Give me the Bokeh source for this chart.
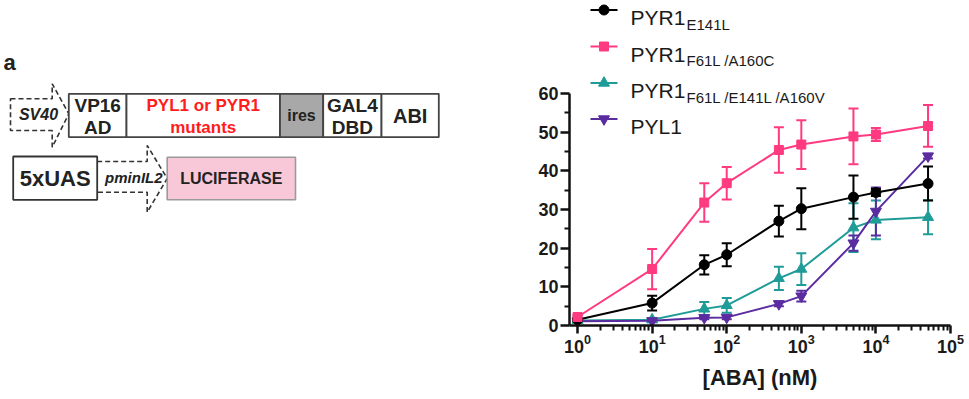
import numpy as np
from bokeh.plotting import figure
from bokeh.models import (Range1d, ColumnDataSource, Whisker, TeeHead, Label,
                          FixedTicker, LogTickFormatter)
from bokeh.layouts import row
from bokeh.embed import file_html
from bokeh.resources import INLINE
from bokeh.core.properties import value

# ---------------- data (panel b) ----------------
ABA_NM = [1, 10, 50, 100, 500, 1000, 5000, 10000, 50000]
E141L_MEAN = [1.5, 5.8, 15.7, 18.3, 27.0, 30.2, 33.2, 34.4, 36.7]
E141L_ERR = [0.5, 1.9, 2.5, 3.0, 4.0, 5.3, 5.6, 0.9, 4.4]
A160C_MEAN = [2.2, 14.6, 31.8, 36.8, 45.4, 46.8, 48.9, 49.4, 51.6]
A160C_ERR = [0.5, 5.2, 5.0, 4.2, 5.9, 6.3, 7.2, 1.7, 5.4]
A160V_MEAN = [1.3, 1.5, 4.3, 5.2, 12.2, 14.6, 25.3, 27.3, 28.0]
A160V_ERR = [0.3, 0.4, 1.8, 1.9, 3.0, 4.1, 6.3, 5.0, 4.4]
PYL1_MEAN = [1.1, 1.2, 2.0, 2.1, 5.6, 7.6, 21.3, 29.5, 43.8]
PYL1_ERR = [0.2, 0.2, 0.4, 0.5, 0.6, 1.4, 2.0, 6.2, 0.6]

SERIES_MAIN = ["PYR1", "PYR1", "PYR1", " PYL1"]
SERIES_SUB = ["E141L", "F61L /A160C", "F61L /E141L /A160V", ""]
SERIES_COLORS = ["#000000", "#ff3a80", "#1f9c98", "#5a2ca0"]
SERIES_MARKERS = ["circle", "square", "triangle", "inverted_triangle"]
SERIES_SIZES = [10, 9, 11, 11]

Y_TICKS = [0, 10, 20, 30, 40, 50, 60]
X_TICKS = [1, 10, 100, 1000, 10000, 100000]

# ---------------- diagram (panel a) ----------------
TOP_BOX_X = [68.3, 126, 279.5, 322.7, 381, 438.3]
TOP_BOX_Y = (93.3, 136.7)
FONT = "Liberation Sans"

# ---------------- layout constants (page pixels) ----------------
W_TOTAL, H = 969, 399
W_A = 460
W_B = W_TOTAL - W_A
FRAME_L, FRAME_R = 569, 950
FRAME_T, FRAME_B = 0, 325
X_LO, X_HI = np.log10(0.78), 5.0
PX_PER_UNIT = (325 - 93) / 60.0
Y_LO, Y_HI = 0.0, (FRAME_B - FRAME_T) / PX_PER_UNIT


def px_to_x(px):
    return 10 ** (X_LO + (px - FRAME_L) / (FRAME_R - FRAME_L) * (X_HI - X_LO))


def py_to_y(py):
    return Y_LO + (FRAME_B - py) / PX_PER_UNIT


# ================= panel a =================
pa = figure(width=W_A, height=H, x_range=Range1d(0, W_A),
            y_range=Range1d(FRAME_B, FRAME_T), output_backend="svg",
            toolbar_location=None, title=None, min_border_left=0, min_border_right=0,
            min_border_top=FRAME_T, min_border_bottom=H - FRAME_B)
pa.axis.visible = False
pa.grid.visible = False
pa.outline_line_color = None

# dashed promoter arrows
pa.patch([10, 51.7, 51.7, 68.3, 51.7, 51.7, 10],
         [98.3, 98.3, 83.3, 113.3, 146.7, 130, 130],
         fill_alpha=0, line_color="#333333", line_width=1.6, line_dash="5 3")
pa.patch([96.7, 146.7, 146.7, 166.7, 146.7, 146.7, 96.7],
         [161, 161, 145, 178, 211.7, 191.7, 191.7],
         fill_alpha=0, line_color="#333333", line_width=1.6, line_dash="5 3")

# top row boxes
fills = ["white", "white", "#a8a8a8", "white", "white"]
pa.quad(left=TOP_BOX_X[:-1], right=TOP_BOX_X[1:], top=[TOP_BOX_Y[0]] * 5,
        bottom=[TOP_BOX_Y[1]] * 5, fill_color=fills, line_color="#444444",
        line_width=1.8)
# bottom row boxes
pa.quad(left=[12.7], right=[96.7], top=[156], bottom=[199.3], fill_color="white",
        line_color="#333333", line_width=1.8)
pa.quad(left=[166.7], right=[295], top=[156.7], bottom=[199.3], fill_color="#f9c8d8",
        line_color="#9a9a9a", line_width=1.6)


def txt(x, y, t, size, color="#222222", style="bold", align="center"):
    pa.text(x=[x], y=[y], text=[t], text_font=value(FONT), text_font_size=size,
            text_font_style=style, text_color=color, text_align=align,
            text_baseline="middle")


txt(9, 62, "a", "22px")
txt(38, 114, "SV40", "16px", style="bold italic")
txt(97.2, 105, "VP16", "19px")
txt(97.2, 126.5, "AD", "19px")
txt(202.7, 105, "PYL1 or PYR1", "17px", color="#ff1c1c")
txt(202.7, 126.5, "mutants", "17px", color="#ff1c1c")
txt(301, 115, "ires", "16px")
txt(351.9, 105, "GAL4", "19px")
txt(351.9, 126.5, "DBD", "19px")
txt(409.7, 115, "ABI", "20px")
txt(54.7, 177.5, "5xUAS", "22px")
txt(133.3, 177, "pminIL2", "15px", style="bold italic")
txt(230.8, 178, "LUCIFERASE", "16px")

# ================= panel b =================
pb = figure(width=W_B, height=H, x_axis_type="log",
            x_range=Range1d(px_to_x(FRAME_L), px_to_x(FRAME_R)),
            y_range=Range1d(Y_LO, Y_HI), output_backend="svg",
            toolbar_location=None, title=None,
            min_border_left=FRAME_L - W_A, min_border_right=W_TOTAL - FRAME_R,
            min_border_top=FRAME_T, min_border_bottom=H - FRAME_B)
pb.grid.visible = False
pb.outline_line_color = None

pb.xaxis.ticker = FixedTicker(ticks=X_TICKS,
                              minor_ticks=[m * 10 ** k for k in range(5) for m in range(2, 10)])
pb.xaxis.formatter = LogTickFormatter()
pb.yaxis.ticker = FixedTicker(ticks=Y_TICKS, minor_ticks=[t + 5 for t in Y_TICKS[:-1]])
pb.yaxis.bounds = (0, 60)
for ax in (pb.xaxis[0], pb.yaxis[0]):
    ax.axis_line_width = 2.5
    ax.axis_line_color = "#111111"
    ax.major_tick_line_width = 2.5
    ax.minor_tick_line_width = 2
    ax.major_tick_line_color = "#111111"
    ax.minor_tick_line_color = "#111111"
    ax.major_tick_in = 0
    ax.minor_tick_in = 0
    ax.major_label_text_font = FONT
    ax.major_label_text_font_style = "bold"
    ax.major_label_text_font_size = "18px"
    ax.major_label_text_color = "#1a1a1a"
pb.xaxis.major_tick_out = 8
pb.xaxis.minor_tick_out = 5
pb.yaxis.major_tick_out = 9
pb.yaxis.minor_tick_out = 5
pb.yaxis.major_label_standoff = 2
pb.xaxis.major_label_standoff = 0
pb.xaxis.axis_label = "[ABA] (nM)"
pb.xaxis.axis_label_text_font = FONT
pb.xaxis.axis_label_text_font_style = "bold"
pb.xaxis.axis_label_text_font_size = "22px"
pb.xaxis.axis_label_text_color = "#1a1a1a"
pb.xaxis.axis_label_standoff = 9

series = [(E141L_MEAN, E141L_ERR), (A160C_MEAN, A160C_ERR),
          (A160V_MEAN, A160V_ERR), (PYL1_MEAN, PYL1_ERR)]
draw_order = [2, 3, 0, 1]
for i in draw_order:
    mean, err = series[i]
    c = SERIES_COLORS[i]
    src = ColumnDataSource(dict(
        x=ABA_NM, y=mean,
        upper=[m + e for m, e in zip(mean, err)],
        lower=[m - e for m, e in zip(mean, err)]))
    pb.add_layout(Whisker(source=src, base="x", upper="upper", lower="lower",
                          dimension="height", line_color=c, line_width=2,
                          upper_head=TeeHead(size=10, line_color=c, line_width=2),
                          lower_head=TeeHead(size=10, line_color=c, line_width=2)))
    pb.line("x", "y", source=src, line_color=c, line_width=2)
    pb.scatter("x", "y", source=src, marker=SERIES_MARKERS[i], size=SERIES_SIZES[i],
               fill_color=c, line_color=c)

# legend (manual, to allow subscripts)
LEG_ROWS_PY = [9.5, 46, 82.5, 118.5]
key_src = ColumnDataSource(dict(
    x0=[px_to_x(590)] * 4, x1=[px_to_x(617)] * 4,
    xm=[px_to_x(603.5)] * 4,
    y=[py_to_y(r) for r in LEG_ROWS_PY],
    ytxt=[py_to_y(r + 7.5) for r in LEG_ROWS_PY],
    ysub=[py_to_y(r + 14) for r in LEG_ROWS_PY],
    xt=[px_to_x(630)] * 4,
    main=SERIES_MAIN, sub=SERIES_SUB, color=SERIES_COLORS,
    marker=SERIES_MARKERS, size=SERIES_SIZES))
pb.segment(x0="x0", y0="y", x1="x1", y1="y", source=key_src, line_color="color", line_width=2)
pb.scatter(x="xm", y="y", marker="marker", size="size", source=key_src,
           fill_color="color", line_color="color")
pb.text(x="xt", y="ytxt", text="main", source=key_src, text_font=value(FONT),
        text_font_size="21px", text_color="#1a1a1a", text_baseline="alphabetic",
        text_align="left")
pb.text(x="xt", y="ysub", text="sub", source=key_src, text_font=value(FONT),
        text_font_size="15px", text_color="#1a1a1a", text_baseline="alphabetic",
        text_align="left", x_offset=56)

pb.add_layout(Label(x=px_to_x(510), y=py_to_y(202.5), text="Induction fold change",
                    angle=np.pi / 2, text_align="center", text_baseline="middle",
                    text_font=FONT, text_font_size="23px", text_color="#1a1a1a"))
pb.add_layout(Label(x=px_to_x(477), y=py_to_y(58), text="b", text_align="center",
                    text_baseline="middle", text_font=FONT, text_font_style="bold",
                    text_font_size="22px", text_color="#111111"))

layout = row(pa, pb)
open("out.html", "w").write(file_html(layout, INLINE))
